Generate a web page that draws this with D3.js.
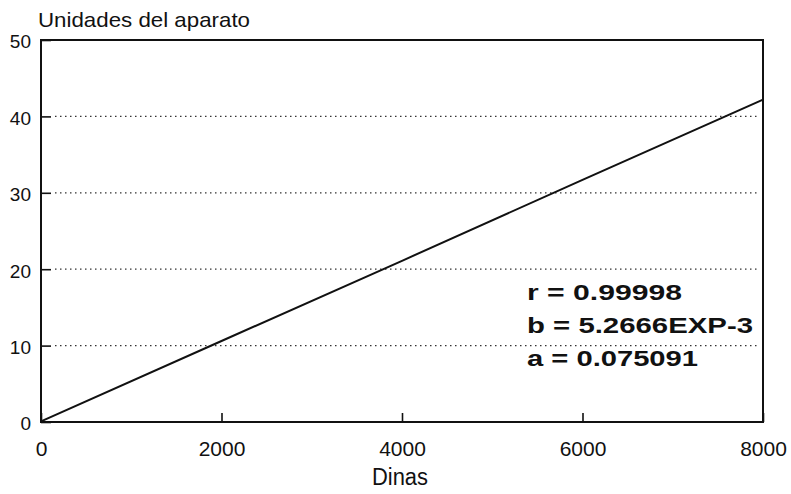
<!DOCTYPE html>
<html>
<head>
<meta charset="utf-8">
<script src="https://cdn.jsdelivr.net/npm/d3@7"></script>
<style>
  body { margin: 0; background: #fff; }
  text { font-family: "Liberation Sans", Arial, sans-serif; fill: #111; }
</style>
</head>
<body>
<script>
var width = 791,
    height = 494;

// data
var dinas = [0, 2000, 4000, 6000, 8000];
var unidades = [0.08, 10.6, 21.1, 31.7, 42.2];
var xTicks = [0, 2000, 4000, 6000, 8000];
var yTicks = [0, 10, 20, 30, 40, 50];
var gridVals = [10, 20, 30, 40];
var stats = ["r = 0.99998", "b = 5.2666EXP-3", "a = 0.075091"];
var statWidths = [155, 226, 171];

// plot box (note: "top" is reserved on window)
var plotL = 41, plotR = 763, plotT = 40, plotB = 422;

var x = d3.scaleLinear().domain([0, 8000]).range([plotL, plotR]);
var y = d3.scaleLinear().domain([0, 50]).range([plotB, plotT]);

var svg = d3.select("body").append("svg")
    .attr("width", width)
    .attr("height", height);

// dotted grid
svg.selectAll(".grid")
    .data(gridVals)
  .enter().append("line")
    .attr("class", "grid")
    .attr("x1", plotL + 14)
    .attr("x2", plotR - 4)
    .attr("y1", function(d) { return y(d); })
    .attr("y2", function(d) { return y(d); })
    .style("stroke", "#333")
    .style("stroke-width", 1.2)
    .style("stroke-dasharray", "1.5,3.5");

// axes
var yAxis = svg.append("g")
    .attr("transform", "translate(" + plotL + ",0)")
    .call(d3.axisLeft(y).tickValues(yTicks).tickSize(-10).tickPadding(10));

var xAxis = svg.append("g")
    .attr("transform", "translate(0," + plotB + ")")
    .call(d3.axisBottom(x).tickValues(xTicks).tickFormat(d3.format("d")).tickSize(-9).tickPadding(19));

[yAxis, xAxis].forEach(function(g) {
  g.select(".domain").remove();
  g.selectAll(".tick line").style("stroke", "#111").style("stroke-width", 1.6);
  g.selectAll("text").style("font-family", "'Liberation Sans', Arial, sans-serif").style("fill", "#111");
});
yAxis.selectAll("text").style("font-size", "19px").attr("dy", "0.42em");
xAxis.selectAll("text").style("font-size", "21px");

// frame
svg.append("rect")
    .attr("x", plotL)
    .attr("y", plotT)
    .attr("width", plotR - plotL)
    .attr("height", plotB - plotT)
    .style("fill", "none")
    .style("stroke", "#111")
    .style("stroke-width", 2);

// fitted line
var line = d3.line()
    .x(function(d, i) { return x(d); })
    .y(function(d, i) { return y(unidades[i]); });

svg.append("path")
    .datum(dinas)
    .attr("d", line)
    .style("fill", "none")
    .style("stroke", "#111")
    .style("stroke-width", 2);

// titles
svg.append("text")
    .attr("x", 38)
    .attr("y", 27)
    .style("font-size", "21px")
    .attr("textLength", 212)
    .attr("lengthAdjust", "spacingAndGlyphs")
    .text("Unidades del aparato");

svg.append("text")
    .attr("x", 372)
    .attr("y", 485)
    .style("font-size", "23px")
    .attr("textLength", 56)
    .attr("lengthAdjust", "spacingAndGlyphs")
    .text("Dinas");

// regression stats
svg.selectAll(".stat")
    .data(stats)
  .enter().append("text")
    .attr("class", "stat")
    .attr("x", 527)
    .attr("y", function(d, i) { return 300 + i * 33; })
    .attr("textLength", function(d, i) { return statWidths[i]; })
    .attr("lengthAdjust", "spacingAndGlyphs")
    .style("font-size", "22px")
    .style("font-weight", "bold")
    .text(function(d) { return d; });
</script>
</body>
</html>
